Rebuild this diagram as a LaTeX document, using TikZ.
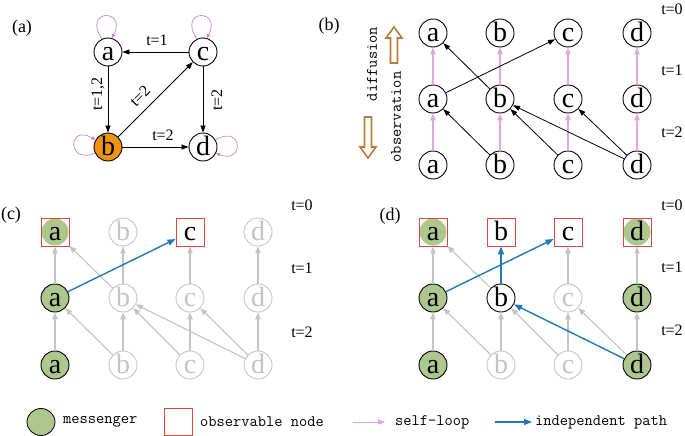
\documentclass[tikz,border=0pt]{standalone}
\usepackage{fontspec}
\setmainfont{Liberation Serif}
\usetikzlibrary{arrows.meta,shapes.geometric}
\definecolor{pinkc}{HTML}{E2A6E2}
\definecolor{loopc}{HTML}{C684D2}
\definecolor{orangec}{HTML}{EE9412}
\definecolor{greenc}{HTML}{ADC78E}
\definecolor{redc}{HTML}{E0473C}
\definecolor{bluec}{HTML}{2079B8}
\definecolor{grayc}{HTML}{C4C4C4}
\definecolor{brownc}{HTML}{B97A3E}
\tikzset{
  letterfont/.style={font=\fontsize{28}{28}\selectfont,text height=16.5pt,text depth=0pt},
  nd/.style={circle,draw=black,line width=0.9pt,minimum size=28pt,inner sep=0pt,fill=white,letterfont},
  gnd/.style={nd,draw=grayc,text=grayc},
  msg/.style={nd,fill=greenc},
  obs/.style={rectangle,draw=redc,line width=0.9pt,minimum size=28pt,inner sep=0pt,fill=white,letterfont},
  obsmsg/.style={obs,path picture={\fill[greenc] (path picture bounding box.center) circle (13.5pt);}},
  blk/.style={-{Triangle[length=7pt,width=5pt]},draw=black,line width=0.8pt},
  pnk/.style={-{Triangle[length=7pt,width=5.5pt]},draw=pinkc,line width=1.2pt},
  gry/.style={-{Triangle[length=7pt,width=5.5pt]},draw=grayc,line width=1.1pt},
  blu/.style={-{Triangle[length=8pt,width=6pt]},draw=bluec,line width=1.4pt},
  lbl/.style={font=\fontsize{16}{16}\selectfont,inner sep=0pt},
  mono/.style={font=\ttfamily\fontsize{16}{16}\selectfont,inner sep=0pt},
  panel/.style={font=\fontsize{18}{18}\selectfont,inner sep=0pt},
  selfloop/.style={draw=loopc,line width=0.7pt,-{Triangle[length=4pt,width=3.5pt]}},
  hollow/.style={draw=brownc,line width=1.6pt,fill=white,line join=miter}
}
\begin{document}
\begin{tikzpicture}[x=1pt,y=-1pt]
\useasboundingbox (0,0) rectangle (685,436);

% ---------- panel (a)
\node[panel] (pa) at (22,28) {(a)};
\node[nd] (A) at (108,52) {a};
\node[nd] (C) at (203,52) {c};
\node[nd,fill=orangec] (B) at (108,147) {b};
\node[nd] (D) at (203,147) {d};
\draw[blk] (C) -- (A);
\draw[blk] (A) -- (B);
\draw[blk] (B) -- (C);
\draw[blk] (C) -- (D);
\draw[blk] (B) -- (D);
\node[lbl] (Lca) at (157,40) {t=1};
\node[lbl,rotate=90] (Lab) at (98,94) {t=1,2};
\node[lbl,rotate=45] (Lbc) at (140,96) {t=2};
\node[lbl,rotate=90] (Lcd) at (217,100) {t=2};
\node[lbl] (Lbd) at (163,135) {t=2};
\draw[selfloop] (A.115) .. controls +(-20,-30) and +(16,-30) .. (A.75);
\draw[selfloop] (C.115) .. controls +(-20,-30) and +(16,-30) .. (C.75);
\draw[selfloop] (B.205) .. controls +(-28,12) and +(-28,-16) .. (B.150);
\draw[selfloop] (D.30) .. controls +(28,-16) and +(28,12) .. (D.-25);

% ---------- panel (b)
\node[panel] (pb) at (329,26) {(b)};
\draw[hollow] (394,27) -- (402,38) -- (397.5,38) -- (397.5,63) -- (390.5,63) -- (390.5,38) -- (386,38) -- cycle;
\draw[hollow] (368,158) -- (376,147) -- (371.5,147) -- (371.5,117) -- (364.5,117) -- (364.5,147) -- (360,147) -- cycle;
\node[mono,rotate=90] (tdiff) at (372,64) {diffusion};
\node[mono,rotate=90] (tobs) at (396,117) {observation};
\node[lbl] (bt0) at (672,9) {t=0};
\node[lbl] (bt1) at (672,70) {t=1};
\node[lbl] (bt2) at (672,132) {t=2};
\foreach \n/\x in {a/433,b/500,c/568,d/637}{
  \node[nd] (b0\n) at (\x,33) {\n};
  \node[nd] (b1\n) at (\x,99) {\n};
  \node[nd] (b2\n) at (\x,165) {\n};
  \draw[pnk] (b2\n) -- (b1\n);
  \draw[pnk] (b1\n) -- (b0\n);
}
\draw[blk] (b1b) -- (b0a);
\draw[blk] (b1a) -- (b0c);
\draw[blk] (b2b) -- (b1a);
\draw[blk] (b2c) -- (b1b);
\draw[blk] (b2d) -- (b1b);
\draw[blk] (b2d) -- (b1c);

% ---------- panel (c)
\node[panel] (pc) at (11,215) {(c)};
\node[lbl] (ct0) at (302,205) {t=0};
\node[lbl] (ct1) at (302,268) {t=1};
\node[lbl] (ct2) at (302,332) {t=2};
\node[obsmsg] (c0a) at (55,232) {a};
\node[gnd] (c0b) at (123,232) {b};
\node[obs] (c0c) at (190,232) {c};
\node[gnd] (c0d) at (258,232) {d};
\node[msg] (c1a) at (55,298) {a};
\node[gnd] (c1b) at (123,298) {b};
\node[gnd] (c1c) at (190,298) {c};
\node[gnd] (c1d) at (258,298) {d};
\node[msg] (c2a) at (55,365) {a};
\node[gnd] (c2b) at (123,365) {b};
\node[gnd] (c2c) at (190,365) {c};
\node[gnd] (c2d) at (258,365) {d};
\foreach \n in {a,b,c,d}{
  \draw[gry] (c2\n) -- (c1\n);
  \draw[gry] (c1\n) -- (c0\n);
}
\draw[gry] (c1b) -- (c0a);
\draw[gry] (c2b) -- (c1a);
\draw[gry] (c2c) -- (c1b);
\draw[gry] (c2d) -- (c1b);
\draw[gry] (c2d) -- (c1c);
\draw[blu] (c1a) -- (c0c);

% ---------- panel (d)
\node[panel] (pd) at (390,216) {(d)};
\node[lbl] (dt0) at (672,205) {t=0};
\node[lbl] (dt1) at (672,267) {t=1};
\node[lbl] (dt2) at (672,330) {t=2};
\node[obsmsg] (d0a) at (433,232) {a};
\node[obs] (d0b) at (501,232) {b};
\node[obs] (d0c) at (568,232) {c};
\node[obsmsg] (d0d) at (637,232) {d};
\node[msg] (d1a) at (433,298) {a};
\node[nd] (d1b) at (501,298) {b};
\node[gnd] (d1c) at (568,298) {c};
\node[msg] (d1d) at (637,298) {d};
\node[msg] (d2a) at (433,365) {a};
\node[gnd] (d2b) at (501,365) {b};
\node[gnd] (d2c) at (568,365) {c};
\node[msg] (d2d) at (637,365) {d};
\draw[gry] (d1a) -- (d0a);
\draw[gry] (d1b) -- (d0a);
\draw[gry] (d1c) -- (d0c);
\draw[gry] (d1d) -- (d0d);
\draw[gry] (d2a) -- (d1a);
\draw[gry] (d2b) -- (d1a);
\draw[gry] (d2b) -- (d1b);
\draw[gry] (d2c) -- (d1b);
\draw[gry] (d2c) -- (d1c);
\draw[gry] (d2d) -- (d1c);
\draw[gry] (d2d) -- (d1d);
\draw[blu] (d1b) -- (d0b);
\draw[blu] (d1a) -- (d0c);
\draw[blu] (d2d) -- (d1b);

% ---------- legend
\node[ellipse,draw=black,line width=0.8pt,fill=greenc,minimum width=28pt,minimum height=27pt,inner sep=0pt] (lgm) at (41,422) {};
\node[mono,anchor=west] (lgmt) at (63,422) {messenger};
\node[rectangle,draw=redc,line width=0.9pt,minimum width=28pt,minimum height=27pt,inner sep=0pt] (lgo) at (178,421.5) {};
\node[mono,anchor=west] (lgot) at (200,422) {observable node};
\coordinate (lp1) at (353,422);
\coordinate (lp2) at (385,422);
\draw[pnk,line width=0.9pt] (lp1) -- (lp2);
\node[mono,anchor=west] (lgpt) at (395,422) {self-loop};
\coordinate (lb1) at (495,422);
\coordinate (lb2) at (532,422);
\draw[blu,line width=1.2pt] (lb1) -- (lb2);
\node[mono,anchor=west] (lgbt) at (535,422) {independent path};
\end{tikzpicture}
\end{document}
